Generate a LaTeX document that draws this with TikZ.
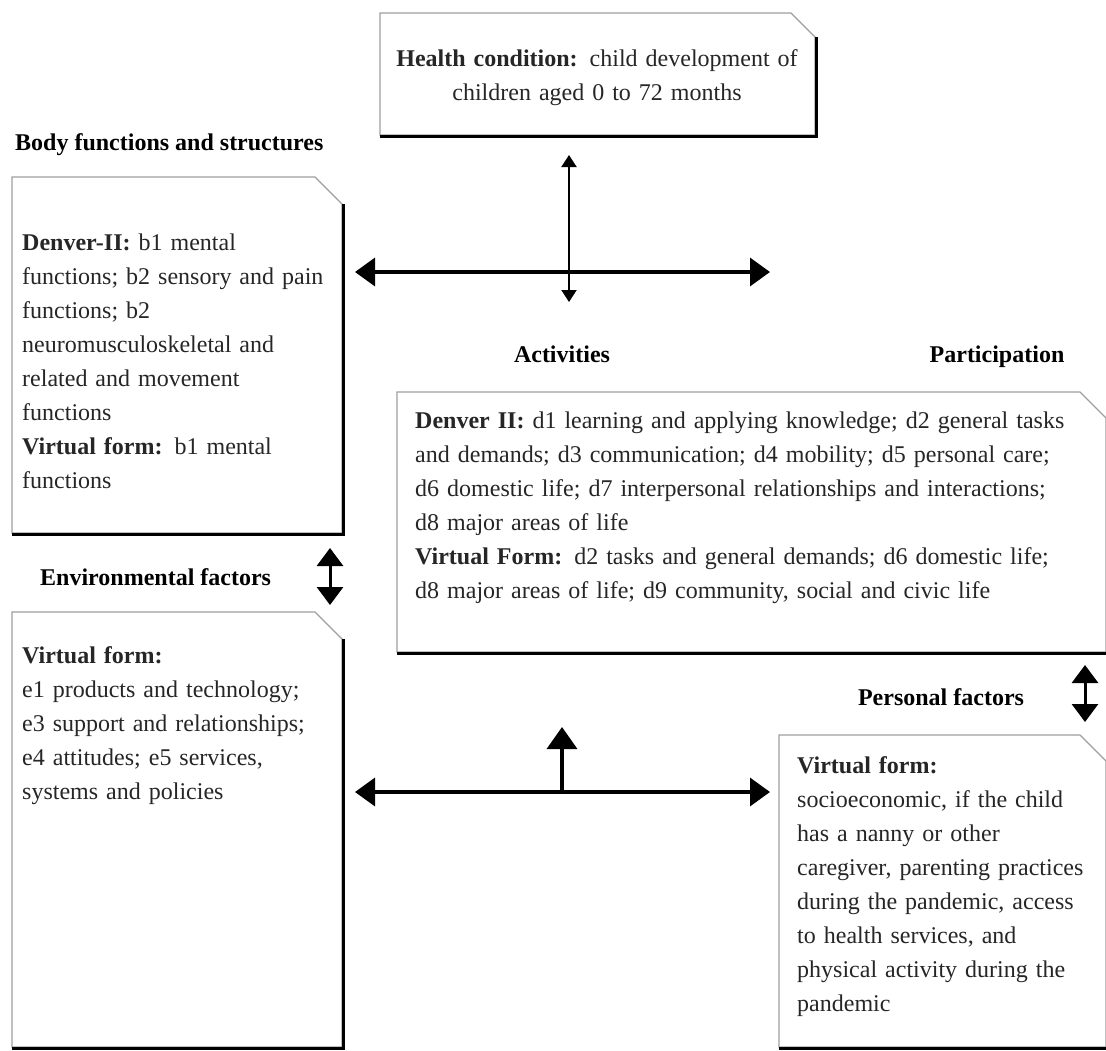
\documentclass[tikz,border=0pt]{standalone}
\usepackage{fontspec}
\setmainfont{Liberation Serif}
\usetikzlibrary{arrows.meta}
\tikzset{
  x=1pt, y=-1pt,
  txt/.style={inner sep=0pt, anchor=base west, text=black!85, align=left, text width=#1,
              font=\fontsize{24}{34}\selectfont},
  lbl/.style={inner sep=0pt, font=\bfseries\fontsize{24}{34}\selectfont},
  boxline/.style={draw=gray!75, line width=1.2pt},
  shadowline/.style={draw=black, line width=3.5pt},
  bigarrow/.style={line width=3.5pt, {Triangle[length=20pt,width=28pt]}-{Triangle[length=20pt,width=28pt]}},
  thinarrow/.style={line width=2pt, {Triangle[length=12pt,width=15pt]}-{Triangle[length=12pt,width=15pt]}},
  midarrow/.style={line width=3pt, {Triangle[length=18pt,width=26pt]}-{Triangle[length=18pt,width=26pt]}},
  uparrow/.style={line width=3.5pt, -{Triangle[length=22pt,width=30pt]}},
}
\newcommand{\foldbox}[5]{% x1 y1 x2 y2 cut
  \draw[boxline] (#1,#2) -- (#3-#5,#2) -- (#3,#2+#5) -- (#3,#4) -- (#1,#4) -- cycle;
  \draw[shadowline] (#3+1.5,#2+#5) -- (#3+1.5,#4+1.5) -- (#1,#4+1.5);
}
\begin{document}
\begin{tikzpicture}
\useasboundingbox (0,0) rectangle (1106,1050);
\fill[white] (0,0) rectangle (1106,1050);

% boxes
\foldbox{380}{13}{815}{135}{24}
\foldbox{12}{177}{342}{533}{27}
\foldbox{12}{612}{342}{1047}{27}
\foldbox{397}{392}{1106}{652}{26}
\foldbox{779}{735}{1106}{1047}{26}

% texts
\node[txt=440pt, anchor=base, align=center] (hc) at (597,66)
  {\textbf{Health condition:} child development of\\ children aged 0 to 72 months};

\node[lbl, anchor=base west] (bfs) at (15,150) {Body functions and structures};
\node[txt=320pt] (body) at (22,250)
  {\textbf{Denver-II:} b1 mental\\
   functions; b2 sensory and pain\\
   functions; b2\\
   neuromusculoskeletal and\\
   related and movement\\
   functions\\
   \textbf{Virtual form:} b1 mental\\
   functions};

\node[lbl, anchor=base west] (envl) at (40,585) {Environmental factors};
\node[txt=320pt] (env) at (22,663)
  {\textbf{Virtual form:}\\
   e1 products and technology;\\
   e3 support and relationships;\\
   e4 attitudes; e5 services,\\
   systems and policies};

\node[lbl, anchor=base] (act) at (562,362) {Activities};
\node[lbl, anchor=base] (par) at (997,362) {Participation};
\node[txt=680pt] (acttxt) at (415,428)
  {\textbf{Denver II:} d1 learning and applying knowledge; d2 general tasks\\
   and demands; d3 communication; d4 mobility; d5 personal care;\\
   d6 domestic life; d7 interpersonal relationships and interactions;\\
   d8 major areas of life\\
   \textbf{Virtual Form:} d2 tasks and general demands; d6 domestic life;\\
   d8 major areas of life; d9 community, social and civic life};

\node[lbl, anchor=base] (pfl) at (941,705) {Personal factors};
\node[txt=300pt] (pers) at (797,773)
  {\textbf{Virtual form:}\\
   socioeconomic, if the child\\
   has a nanny or other\\
   caregiver, parenting practices\\
   during the pandemic, access\\
   to health services, and\\
   physical activity during the\\
   pandemic};

% arrows
\coordinate (cL) at (355,272);
\coordinate (cR) at (770,272);
\coordinate (cT) at (569,155);
\coordinate (cB) at (569,302);
\draw[bigarrow] (cL) -- (cR);
\draw[thinarrow] (cT) -- (cB);

\coordinate (eT) at (330,548);
\coordinate (eB) at (330,605);
\draw[midarrow] (eT) -- (eB);

\coordinate (pT) at (1085,665);
\coordinate (pB) at (1085,722);
\draw[midarrow] (pT) -- (pB);

\coordinate (bL) at (355,792);
\coordinate (bR) at (770,792);
\coordinate (bU) at (562,727);
\coordinate (bM) at (562,792);
\draw[bigarrow] (bL) -- (bR);
\draw[uparrow] (bM) -- (bU);
\end{tikzpicture}
\end{document}
